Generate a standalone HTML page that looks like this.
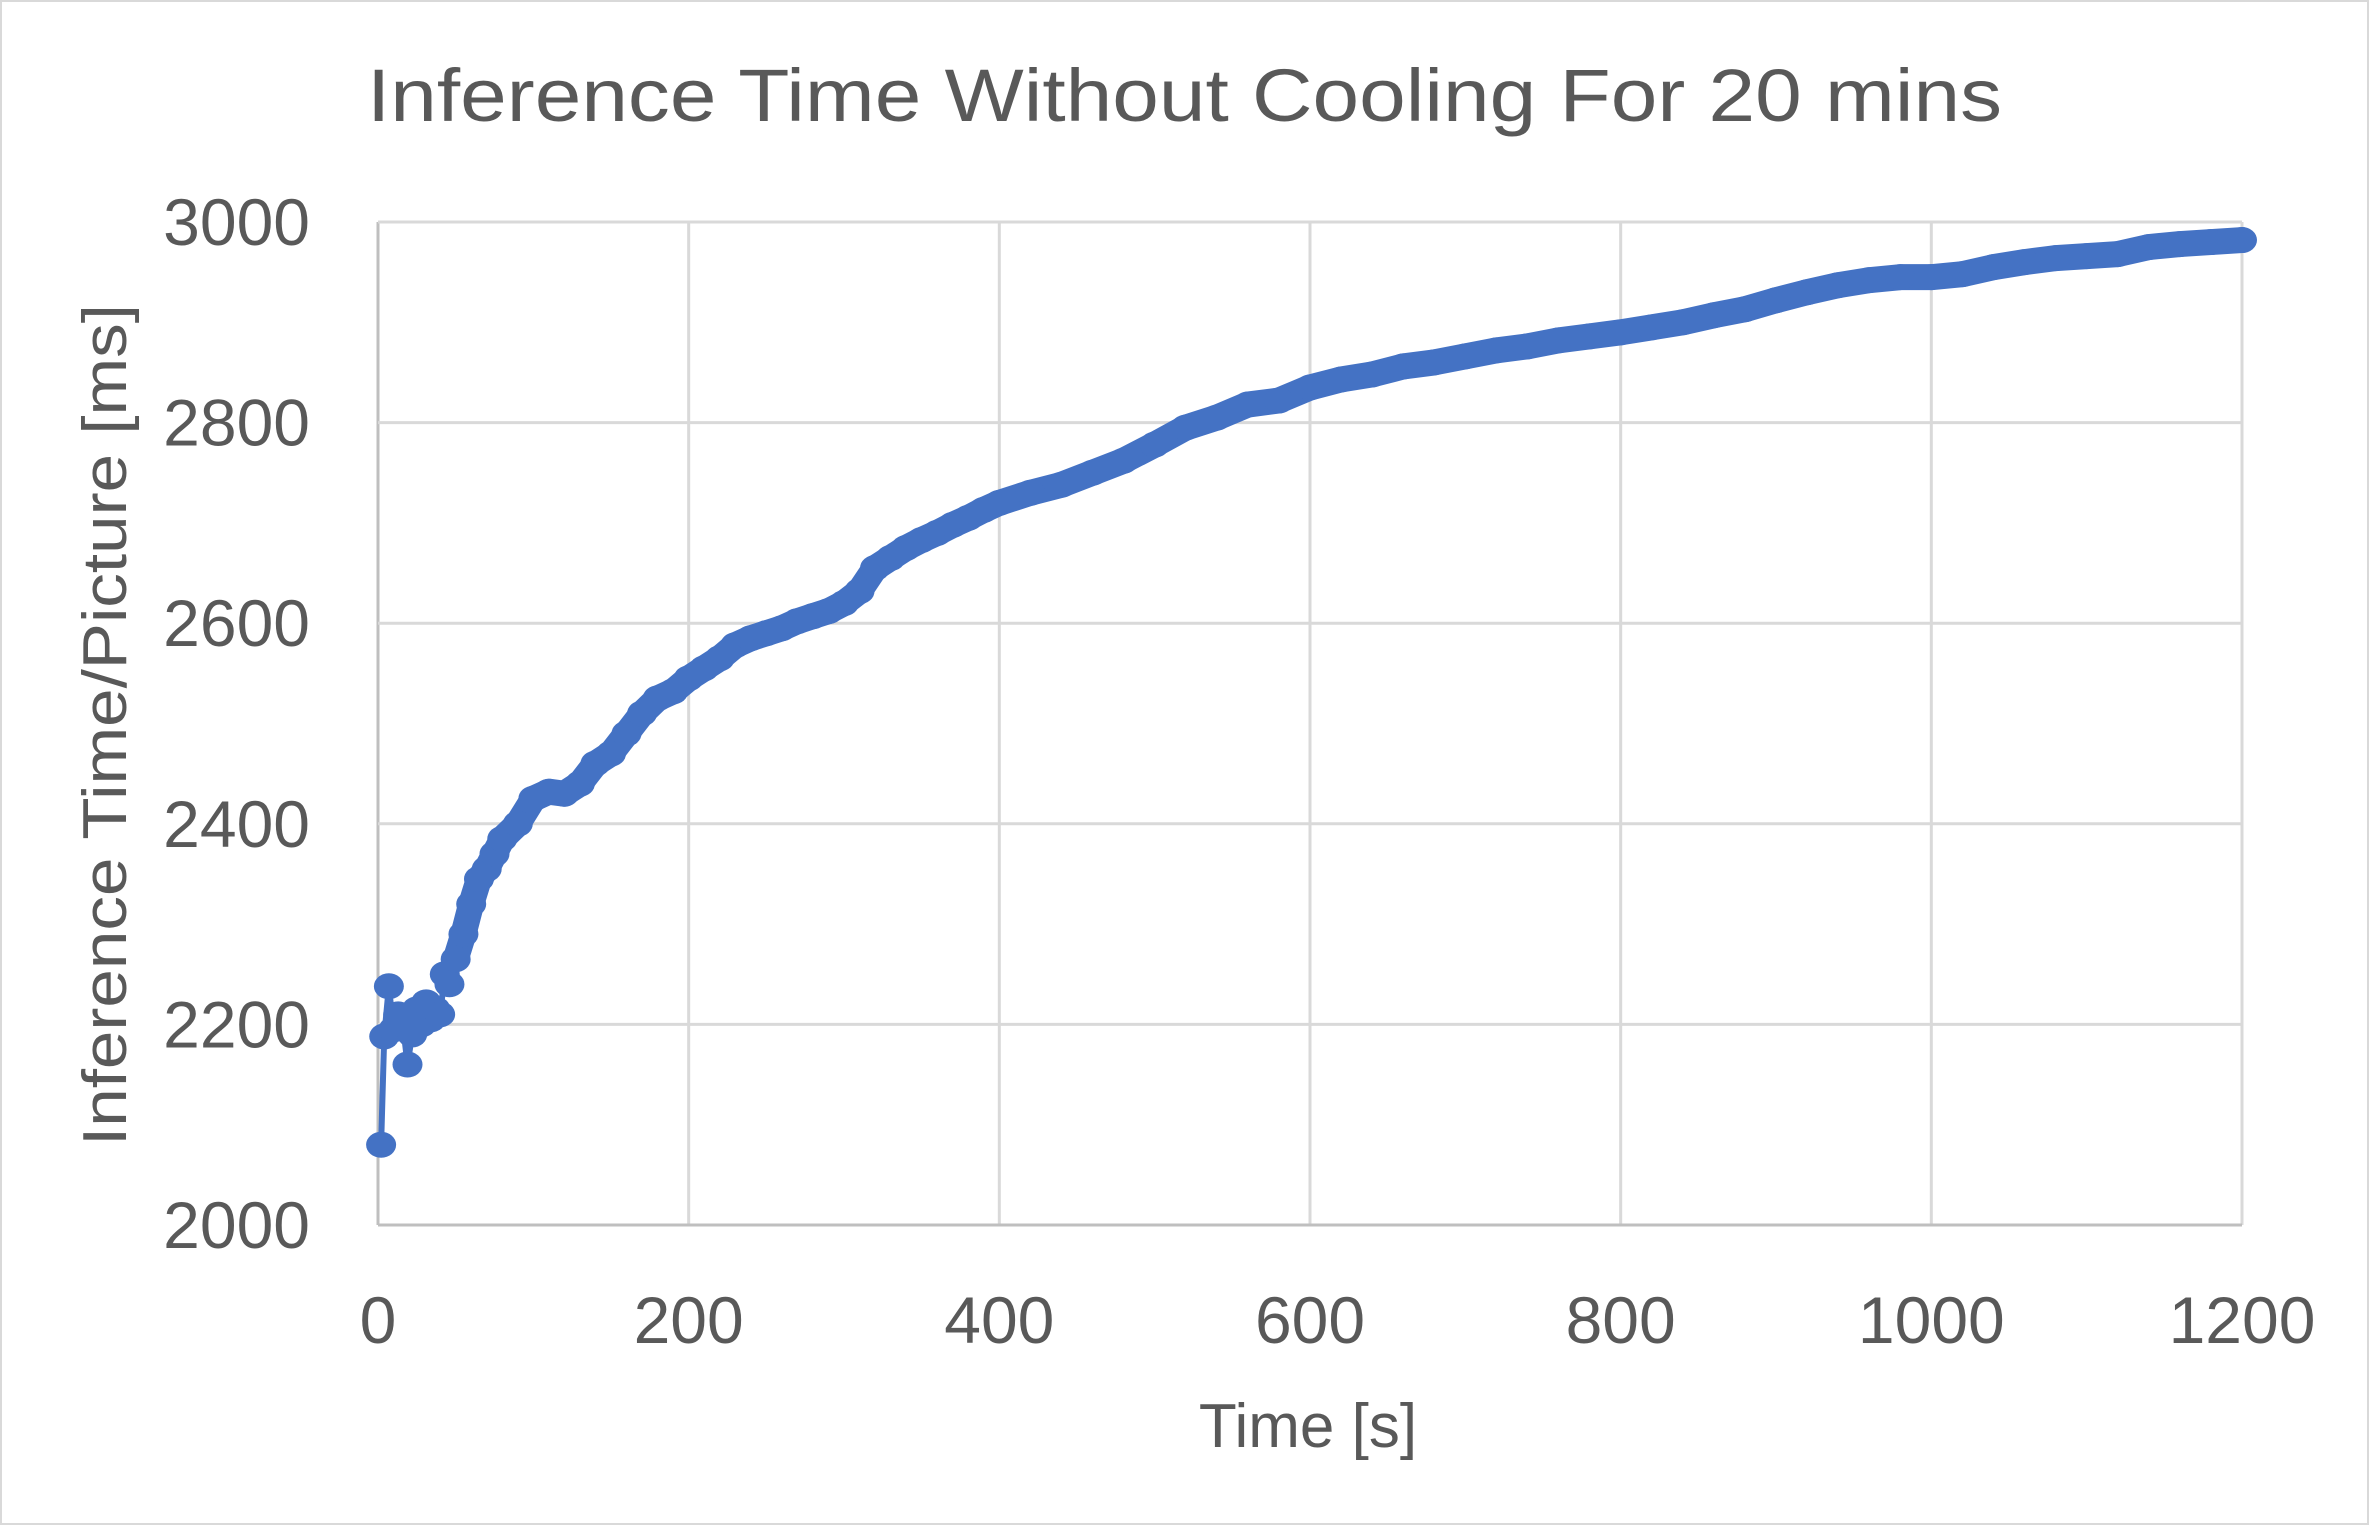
<!DOCTYPE html>
<html><head><meta charset="utf-8"><style>
html,body{margin:0;padding:0;background:#fff;}
svg{display:block;font-family:"Liberation Sans",sans-serif;}
</style></head><body>
<svg id="chart" width="2369" height="1525" viewBox="0 0 2369 1525">
<rect x="1" y="1" width="2367" height="1523" fill="#fff" stroke="#d9d9d9" stroke-width="2"/>
<text x="367" y="121" font-size="74" fill="#595959" textLength="1635" lengthAdjust="spacingAndGlyphs">Inference Time Without Cooling For 20 mins</text>
<g id="grid"></g>
<g id="ticks"></g>
<g id="series"></g>
<text x="1308" y="1447" font-size="62" fill="#595959" text-anchor="middle">Time [s]</text>
<text transform="translate(126,725) rotate(-90)" font-size="62" fill="#595959" text-anchor="middle" textLength="842" lengthAdjust="spacingAndGlyphs">Inference  Time/Picture [ms]</text>
</svg>
<script>
const xTicks = [0,200,400,600,800,1000,1200];
const yTicks = [2000,2200,2400,2600,2800,3000];
const times = [2,4,7,10,13,16,19,22,25,28,31,34,37,40,43,46,50,55,60,65,70,75,80,90,100,110,120,130,140,150,160,170,180,190,200,210,220,230,240,250,260,270,280,290,300,310,320,330,340,350,360,370,380,390,400,420,440,460,480,500,520,540,560,580,600,620,640,660,680,700,720,740,760,780,800,820,840,860,880,900,920,940,960,980,1000,1020,1040,1060,1080,1100,1120,1140,1160,1180,1200];
const values = [2080,2188,2238,2195,2210,2200,2160,2190,2215,2200,2222,2205,2215,2210,2250,2240,2265,2290,2320,2345,2355,2370,2385,2400,2425,2432,2430,2440,2460,2470,2490,2510,2525,2532,2545,2555,2565,2578,2585,2590,2595,2602,2607,2612,2620,2632,2655,2665,2675,2683,2690,2698,2705,2713,2720,2730,2738,2750,2762,2778,2795,2805,2818,2822,2835,2843,2848,2856,2860,2866,2872,2876,2882,2886,2890,2895,2900,2907,2913,2922,2930,2937,2942,2945,2945,2948,2955,2960,2964,2966,2968,2975,2978,2980,2982];
const X0=378, X1=2242, Y0=1225, Y1=222;
function xs(v){return X0+(v-0)/(1200-0)*(X1-X0);}
function ys(v){return Y0-(v-2000)/(3000-2000)*(Y0-Y1);}
const NS="http://www.w3.org/2000/svg";
const grid=document.getElementById('grid'), ticks=document.getElementById('ticks'), series=document.getElementById('series');
xTicks.forEach(t=>{
  const l=document.createElementNS(NS,'line');
  
  
  l.setAttribute('x1',xs(t));l.setAttribute('x2',xs(t));l.setAttribute('y1',Y1);l.setAttribute('y2',Y0);
  l.setAttribute('stroke', t===0?'#bfbfbf':'#d9d9d9');l.setAttribute('stroke-width','3');
  grid.appendChild(l);
  const tx=document.createElementNS(NS,'text');
  
  
  tx.setAttribute('x',xs(t));tx.setAttribute('y',1343);tx.setAttribute('font-size','66');
  tx.setAttribute('fill','#595959');tx.setAttribute('text-anchor','middle');tx.textContent=t;
  ticks.appendChild(tx);
});
yTicks.forEach(t=>{
  const l=document.createElementNS(NS,'line');
  
  
  l.setAttribute('x1',X0);l.setAttribute('x2',X1);l.setAttribute('y1',ys(t));l.setAttribute('y2',ys(t));
  l.setAttribute('stroke', t===2000?'#bfbfbf':'#d9d9d9');l.setAttribute('stroke-width','3');
  grid.appendChild(l);
  const tx=document.createElementNS(NS,'text');
  
  
  tx.setAttribute('x',310);tx.setAttribute('y',ys(t)+23);tx.setAttribute('font-size','66');
  tx.setAttribute('fill','#595959');tx.setAttribute('text-anchor','end');tx.textContent=t;
  ticks.appendChild(tx);
});
const pl=document.createElementNS(NS,'polyline');


pl.setAttribute('points',times.map((t,i)=>xs(t)+','+ys(values[i])).join(' '));
pl.setAttribute('fill','none');pl.setAttribute('stroke','#4472c4');pl.setAttribute('stroke-width','6');pl.setAttribute('stroke-linejoin','round');
series.appendChild(pl);
const band=document.createElementNS(NS,'polyline');


band.setAttribute('points',times.slice(16).map((t,i)=>xs(t)+','+ys(values[i+16])).join(' '));
band.setAttribute('fill','none');band.setAttribute('stroke','#4472c4');band.setAttribute('stroke-width','26');band.setAttribute('stroke-linejoin','round');band.setAttribute('stroke-linecap','round');
series.appendChild(band);
times.forEach((t,i)=>{
  const c=document.createElementNS(NS,'ellipse');
  
  
  c.setAttribute('cx',xs(t));c.setAttribute('cy',ys(values[i]));c.setAttribute('rx',15);c.setAttribute('ry',13);
  c.setAttribute('fill','#4472c4');
  series.appendChild(c);
});
</script>
</body></html>
